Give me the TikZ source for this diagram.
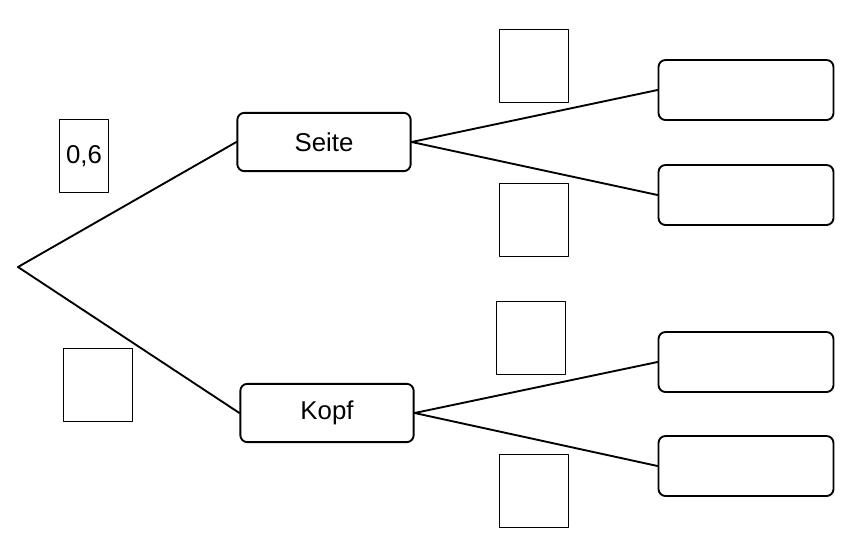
\documentclass[tikz,border=0pt]{standalone}
\usepackage{fontspec}
\setmainfont{Liberation Sans}
\begin{document}
\begin{tikzpicture}[line cap=round,line join=round,x=0.03cm,y=-0.03cm,
  event/.style={draw,line width=1.6pt,rounded corners=6pt,minimum width=5.2cm,minimum height=1.75cm,font=\fontsize{22}{26}\selectfont},
  leaf/.style={draw,line width=1.6pt,rounded corners=6pt,minimum width=5.25cm,minimum height=1.8cm},
  prob/.style={draw,line width=0.6pt,minimum width=2.05cm,minimum height=2.2cm,font=\fontsize{22}{26}\selectfont},
  branch/.style={line width=1.6pt}]
\useasboundingbox (0,0) rectangle (860,547);
\coordinate (root) at (18,267);
\node[event] (seite) at (324,142) {Seite};
\node[event] (kopf) at (327,413) {Kopf};
\node[leaf] (s1) at (746,90) {};
\node[leaf] (s2) at (746,195) {};
\node[leaf] (k1) at (746,362) {};
\node[leaf] (k2) at (746,466) {};
\node[prob,minimum width=1.45cm] (pseite) at (84,156) {0,6};
\node[prob] (pkopf) at (98,385) {};
\node[prob] (ps1) at (534,66) {};
\node[prob] (ps2) at (534,220) {};
\node[prob] (pk1) at (531,338) {};
\node[prob] (pk2) at (534,491) {};
\draw[branch] (root) -- (seite.west);
\draw[branch] (root) -- (kopf.west);
\draw[branch] (seite.east) -- (s1.west);
\draw[branch] (seite.east) -- (s2.west);
\draw[branch] (kopf.east) -- (k1.west);
\draw[branch] (kopf.east) -- (k2.west);
\end{tikzpicture}
\end{document}
